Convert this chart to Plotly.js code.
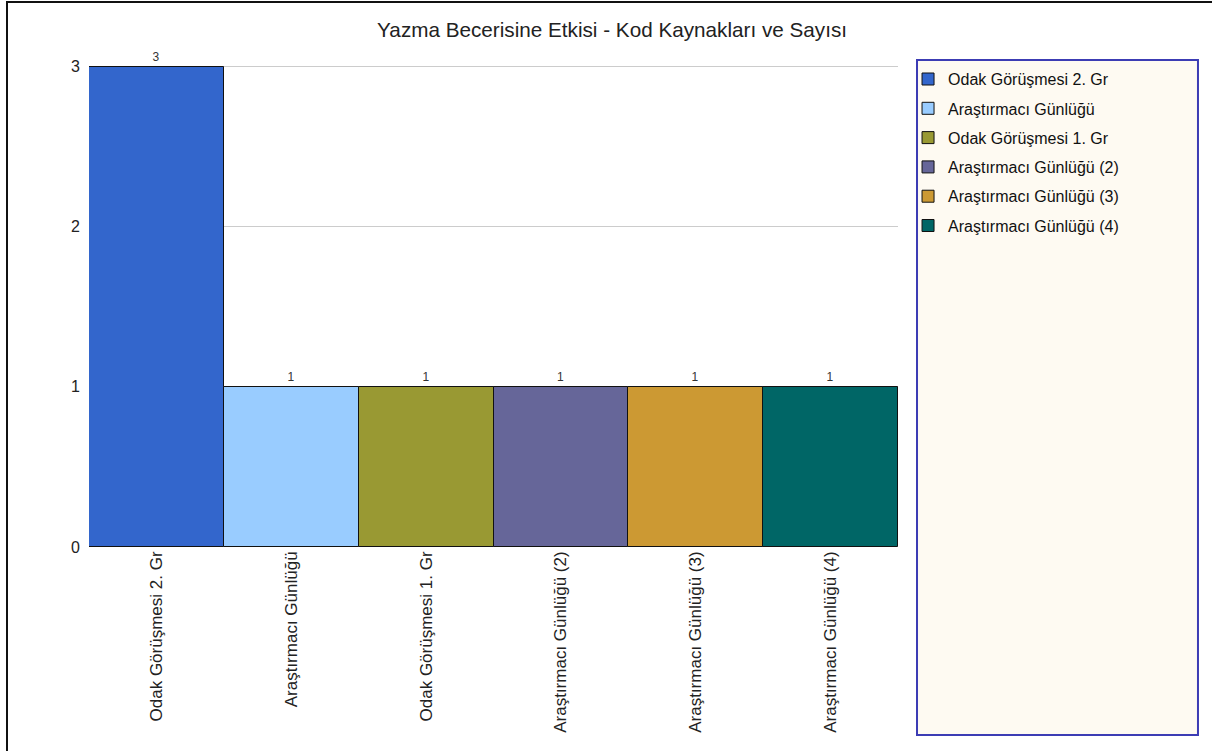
<!DOCTYPE html>
<html>
<head>
<meta charset="utf-8">
<script src="https://cdn.plot.ly/plotly-3.0.1.min.js"></script>
<style>
  body { margin: 0; background: #fff; }
  #frame { position: absolute; left: 6px; top: 1px; width: 1206px; height: 750px;
           border-left: 2px solid #111; border-top: 2px solid #111; box-sizing: border-box; }
  #chart { position: absolute; left: 0; top: 0; }
</style>
</head>
<body>
<div id="chart"></div>
<div id="frame"></div>
<script>
var sources = ["Odak Görüşmesi 2. Gr", "Araştırmacı Günlüğü", "Odak Görüşmesi 1. Gr",
               "Araştırmacı Günlüğü (2)", "Araştırmacı Günlüğü (3)", "Araştırmacı Günlüğü (4)"];
var counts = [3, 1, 1, 1, 1, 1];
var colors = ["#3366cc", "#99ccff", "#999933", "#666699", "#cc9933", "#006666"];
var yTicks = [0, 1, 2, 3];

var font = "Liberation Sans, Arial, sans-serif";

var data = sources.map(function (name, i) {
  return {
    type: "bar",
    name: name,
    x: [name],
    y: [counts[i]],
    text: [String(counts[i])],
    textposition: "outside",
    textfont: { size: 12, color: "#333", family: font },
    cliponaxis: false,
    marker: { color: colors[i], line: { color: "#111", width: 1 } },
    legendgroup: "g" + i,
    hoverinfo: "x+y"
  };
});

var layout = {
  width: 1212,
  height: 751,
  margin: { l: 89, r: 314, t: 65, b: 204 },
  paper_bgcolor: "#fff",
  plot_bgcolor: "#fff",
  font: { family: font, color: "#222", size: 16 },
  title: {
    text: "Yazma Becerisine Etkisi - Kod Kaynakları ve Sayısı",
    font: { size: 20.7, family: font, color: "#222" },
    x: 0.505, xref: "container", y: 0.96, yref: "container", yanchor: "middle"
  },
  barmode: "overlay",
  bargap: 0,
  xaxis: {
    categoryorder: "array",
    categoryarray: sources,
    tickangle: -90,
    ticks: "",
    showgrid: false,
    showline: false,
    tickfont: { size: 17, family: font, color: "#222" }
  },
  yaxis: {
    range: [0, 3.01],
    tickvals: yTicks,
    ticktext: yTicks.map(String),
    showgrid: true,
    gridcolor: "#cccccc",
    zeroline: false,
    showline: false,
    ticks: "outside",
    ticklen: 5,
    tickcolor: "rgba(0,0,0,0)",
    tickfont: { size: 16, family: font, color: "#222" }
  },
  showlegend: true,
  legend: {
    x: 1.0124, xanchor: "left",
    y: 1.006, yanchor: "top",
    bgcolor: "rgba(0,0,0,0)",
    borderwidth: 0,
    traceorder: "grouped",
    tracegroupgap: 5.5,
    itemwidth: 30,
    font: { size: 16, family: font, color: "#111" }
  },
  shapes: [{
    type: "rect", xref: "paper", yref: "paper",
    x0: 1.0235, x1: 1.3708, y0: -0.39, y1: 1.0104,
    fillcolor: "#fefaf2",
    line: { color: "#3c3cb4", width: 2 },
    layer: "below"
  }]
};

Plotly.newPlot("chart", data, layout, { displayModeBar: false, responsive: false });
</script>
</body>
</html>
